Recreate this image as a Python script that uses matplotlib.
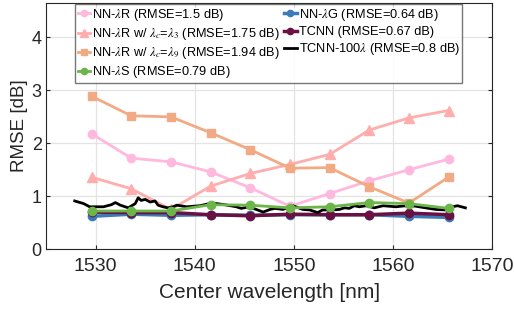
import matplotlib
matplotlib.use("Agg")
import matplotlib.pyplot as plt

plt.rcParams['font.family'] = ['Liberation Sans', 'DejaVu Sans']
plt.rcParams['mathtext.fontset'] = 'stix'

wl = [1529.6, 1533.6, 1537.6, 1541.6, 1545.6, 1549.6, 1553.6, 1557.6, 1561.6, 1565.6]
nn_lr = [2.18, 1.72, 1.65, 1.46, 1.16, 0.81, 1.05, 1.29, 1.50, 1.70]
nn_lr_c3 = [1.36, 1.14, 0.75, 1.19, 1.43, 1.60, 1.79, 2.25, 2.48, 2.62]
nn_lr_c9 = [2.89, 2.52, 2.50, 2.20, 1.88, 1.53, 1.54, 1.18, 0.87, 1.36]
nn_ls = [0.72, 0.72, 0.72, 0.84, 0.83, 0.78, 0.80, 0.88, 0.86, 0.77]
nn_lg = [0.62, 0.66, 0.64, 0.65, 0.64, 0.65, 0.65, 0.65, 0.62, 0.60]
tcnn = [0.70, 0.69, 0.69, 0.65, 0.63, 0.66, 0.65, 0.65, 0.68, 0.65]

wl_dense = [1527.9, 1528.8, 1529.4, 1530.8, 1531.6, 1532.0, 1532.5, 1533.3, 1534.0,
            1534.3, 1534.6, 1535.0, 1535.5, 1536.0, 1536.3, 1536.8, 1537.3, 1537.8,
            1538.2, 1539.2, 1540.5, 1541.5, 1542.2, 1543.0, 1544.2, 1544.7, 1545.5,
            1546.2, 1546.9, 1547.6, 1548.1, 1548.9, 1549.9, 1550.9, 1551.6, 1552.4,
            1552.9, 1553.9, 1554.6, 1555.1, 1555.6, 1556.1, 1556.6, 1557.3, 1558.1,
            1559.0, 1560.3, 1561.3, 1562.0, 1563.3, 1564.3, 1565.3, 1566.0, 1566.5,
            1567.3]
tcnn100 = [0.91, 0.86, 0.80, 0.80, 0.84, 0.88, 0.83, 0.78, 0.86,
           0.97, 0.92, 0.94, 0.89, 0.91, 0.83, 0.80, 0.78, 0.80,
           0.83, 0.80, 0.82, 0.86, 0.86, 0.84, 0.80, 0.77, 0.80,
           0.75, 0.70, 0.75, 0.77, 0.75, 0.82, 0.75, 0.74, 0.69,
           0.74, 0.74, 0.75, 0.78, 0.77, 0.82, 0.80, 0.82, 0.78,
           0.82, 0.80, 0.82, 0.82, 0.78, 0.75, 0.74, 0.80, 0.82,
           0.78]

labels = [r'NN-$\lambda$R (RMSE=1.5 dB)',
          r'NN-$\lambda$R w/ $\lambda_c$=$\lambda_3$ (RMSE=1.75 dB)',
          r'NN-$\lambda$R w/ $\lambda_c$=$\lambda_9$ (RMSE=1.94 dB)',
          r'NN-$\lambda$S (RMSE=0.79 dB)',
          r'NN-$\lambda$G (RMSE=0.64 dB)',
          r'TCNN (RMSE=0.67 dB)',
          r'TCNN-100$\lambda$ (RMSE=0.8 dB)']

fig = plt.figure(figsize=(5.14, 3.11), dpi=100)
ax = fig.add_axes([0.0895, 0.199, 0.868, 0.791])

lw = 2.0
ms = 6
ax.plot(wl, nn_lr, color='#FFB8DE', marker='o', lw=lw, ms=ms, label=labels[0], zorder=3)
ax.plot(wl, nn_lr_c3, color='#FFADAD', marker='^', lw=lw, ms=ms + 1, label=labels[1], zorder=3)
ax.plot(wl, nn_lr_c9, color='#F2AA84', marker='s', lw=lw, ms=ms - 0.5, label=labels[2], zorder=3)
ax.plot(wl, nn_lg, color='#3C7BBA', marker='o', lw=lw + 0.5, ms=ms, label=labels[4], zorder=4)
ax.plot(wl, tcnn, color='#6A1143', marker='o', lw=lw + 0.5, ms=ms, label=labels[5], zorder=5)
ax.plot(wl_dense, tcnn100, color='black', lw=lw, label=labels[6], zorder=6)
ax.plot(wl, nn_ls, color='#6CB548', marker='o', lw=lw, ms=ms, label=labels[3], zorder=7)

ax.set_xlim(1525, 1570)
ax.set_ylim(0, 4.65)
ax.set_xticks([1530, 1540, 1550, 1560, 1570])
ax.set_yticks([0, 1, 2, 3, 4])
ax.grid(True, color='#E3E3E3', lw=0.9)
ax.set_axisbelow(True)
ax.tick_params(direction='in', top=True, right=True, length=3,
               colors='#262626', width=0.8)
ax.tick_params(axis='x', labelsize=14, pad=6.5)
ax.tick_params(axis='y', labelsize=13, pad=3)
for s in ax.spines.values():
    s.set_color('#262626')
    s.set_linewidth(0.8)
ax.set_xlabel('Center wavelength [nm]', fontsize=15, color='#262626', labelpad=6)
ax.set_ylabel('RMSE [dB]', fontsize=13.5, color='#262626', labelpad=3)

handles, labs = ax.get_legend_handles_labels()
order = [labels.index(l) for l in labs]
pairs = sorted(zip(order, handles, labs))
leg = ax.legend([p[1] for p in pairs], [p[2] for p in pairs], ncol=2,
                loc='upper left', bbox_to_anchor=(0.065, 0.995), fontsize=9.2,
                handlelength=1.0, handletextpad=0.15, columnspacing=0.3,
                labelspacing=0.25, borderpad=0.2, borderaxespad=0.0,
                frameon=True, fancybox=False, markerscale=0.75)
leg.get_frame().set_edgecolor('#555555')
leg.get_frame().set_linewidth(1.0)

fig.savefig('out.png', dpi=100)
